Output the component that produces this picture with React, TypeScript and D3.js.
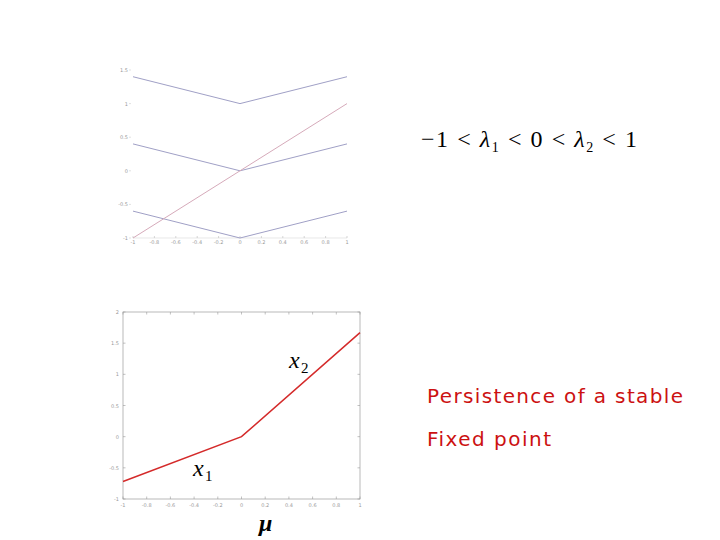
import React from "react";
import * as d3 from "d3";

const xTicks = [-1, -0.8, -0.6, -0.4, -0.2, 0, 0.2, 0.4, 0.6, 0.8, 1];
const xTickLabels = ["-1", "-0.8", "-0.6", "-0.4", "-0.2", "0", "0.2", "0.4", "0.6", "0.8", "1"];
const topYTicks = [-1, -0.5, 0, 0.5, 1, 1.5];
const bottomYTicks = [-1, -0.5, 0, 0.5, 1, 1.5, 2];

const mu = [-1, 0, 1];
const topUpper = [1.4, 1, 1.4];
const topMiddle = [0.4, 0, 0.4];
const topLower = [-0.6, -1, -0.6];
const topDiagonal = [-1, 0, 1];
const bottomBranch = [-0.72, 0, 1.67];

export default function App() {
  const tx = d3.scaleLinear().domain([-1, 1]).range([133, 347]);
  const ty = d3.scaleLinear().domain([-1, 1.5]).range([238, 70]);
  const bx = d3.scaleLinear().domain([-1, 1]).range([123, 360]);
  const by = d3.scaleLinear().domain([-1, 2]).range([499, 312]);

  const topLine = d3.line<number>().x((_, i) => tx(mu[i])).y((d) => ty(d));
  const botLine = d3.line<number>().x((_, i) => bx(mu[i])).y((d) => by(d));

  const tickFont = { fontFamily: "DejaVu Sans", fontSize: 5, fill: "#9a9a9a" };

  return (
    <svg width={720} height={540} style={{ position: "absolute", left: 0, top: 0, background: "#fff" }}>
      {/* top plot */}
      <g>
        <line x1={tx(-1)} x2={tx(1)} y1={ty(-1)} y2={ty(-1)} stroke="#d8d8d8" strokeWidth={0.6} />
        {xTicks.map((t, i) => (
          <g key={"tx" + i}>
            <line x1={tx(t)} x2={tx(t)} y1={ty(-1)} y2={ty(-1) - 2} stroke="#bbb" strokeWidth={0.6} />
            <text x={tx(t)} y={ty(-1) + 6} textAnchor="middle" {...tickFont}>
              {xTickLabels[i]}
            </text>
          </g>
        ))}
        {topYTicks.map((t, i) => (
          <g key={"ty" + i}>
            <line x1={tx(-1) - 4} x2={tx(-1) - 2} y1={ty(t)} y2={ty(t)} stroke="#ccc" strokeWidth={0.6} />
            <text x={tx(-1) - 5} y={ty(t) + 2} textAnchor="end" {...tickFont}>
              {String(t)}
            </text>
          </g>
        ))}
        {[topUpper, topMiddle, topLower].map((s, i) => (
          <path key={"tl" + i} d={topLine(s) || ""} fill="none" stroke="#a0a0c6" strokeWidth={1} />
        ))}
        <path d={topLine(topDiagonal) || ""} fill="none" stroke="#d6aaba" strokeWidth={1} />
      </g>

      {/* bottom plot */}
      <g>
        <rect x={bx(-1)} y={by(2)} width={bx(1) - bx(-1)} height={by(-1) - by(2)} fill="none" stroke="#a8a8a8" strokeWidth={0.8} />
        {xTicks.map((t, i) => (
          <g key={"bx" + i}>
            <line x1={bx(t)} x2={bx(t)} y1={by(-1)} y2={by(-1) - 2.5} stroke="#999" strokeWidth={0.6} />
            <line x1={bx(t)} x2={bx(t)} y1={by(2)} y2={by(2) + 2.5} stroke="#999" strokeWidth={0.6} />
            <text x={bx(t)} y={by(-1) + 8} textAnchor="middle" {...tickFont}>
              {xTickLabels[i]}
            </text>
          </g>
        ))}
        {bottomYTicks.map((t, i) => (
          <g key={"by" + i}>
            <line x1={bx(-1)} x2={bx(-1) + 2.5} y1={by(t)} y2={by(t)} stroke="#999" strokeWidth={0.6} />
            <line x1={bx(1)} x2={bx(1) - 2.5} y1={by(t)} y2={by(t)} stroke="#999" strokeWidth={0.6} />
            <text x={bx(-1) - 4} y={by(t) + 2} textAnchor="end" {...tickFont}>
              {String(t)}
            </text>
          </g>
        ))}
        <path d={botLine(bottomBranch) || ""} fill="none" stroke="#d42a2a" strokeWidth={1.5} />
      </g>

      {/* labels */}
      <text x={289} y={368} fontFamily="Liberation Serif" fontStyle="italic" fontSize={24} fill="#000">
        x
      </text>
      <text x={301} y={373} fontFamily="Liberation Serif" fontSize={15} fill="#000">
        2
      </text>
      <text x={193} y={476} fontFamily="Liberation Serif" fontStyle="italic" fontSize={24} fill="#000">
        x
      </text>
      <text x={205} y={481} fontFamily="Liberation Serif" fontSize={15} fill="#000">
        1
      </text>
      <text x={259} y={531} fontFamily="Liberation Serif" fontStyle="italic" fontWeight="bold" fontSize={24} fill="#000">
        μ
      </text>

      <text x={421} y={147} fontFamily="Liberation Serif" fontSize={24} fill="#000" textLength={216} lengthAdjust="spacing">
        <tspan>−1 &lt; </tspan>
        <tspan fontStyle="italic">λ</tspan>
        <tspan fontSize={14} dy={5}>1</tspan>
        <tspan dy={-5}> &lt; 0 &lt; </tspan>
        <tspan fontStyle="italic">λ</tspan>
        <tspan fontSize={14} dy={5}>2</tspan>
        <tspan dy={-5}> &lt; 1</tspan>
      </text>

      <text x={427} y={403} fontFamily="DejaVu Sans" fontSize={20} fill="#cc1111" textLength={256} lengthAdjust="spacing">
        Persistence of a stable
      </text>
      <text x={427} y={446} fontFamily="DejaVu Sans" fontSize={20} fill="#cc1111" textLength={124} lengthAdjust="spacing">
        Fixed point
      </text>
    </svg>
  );
}
